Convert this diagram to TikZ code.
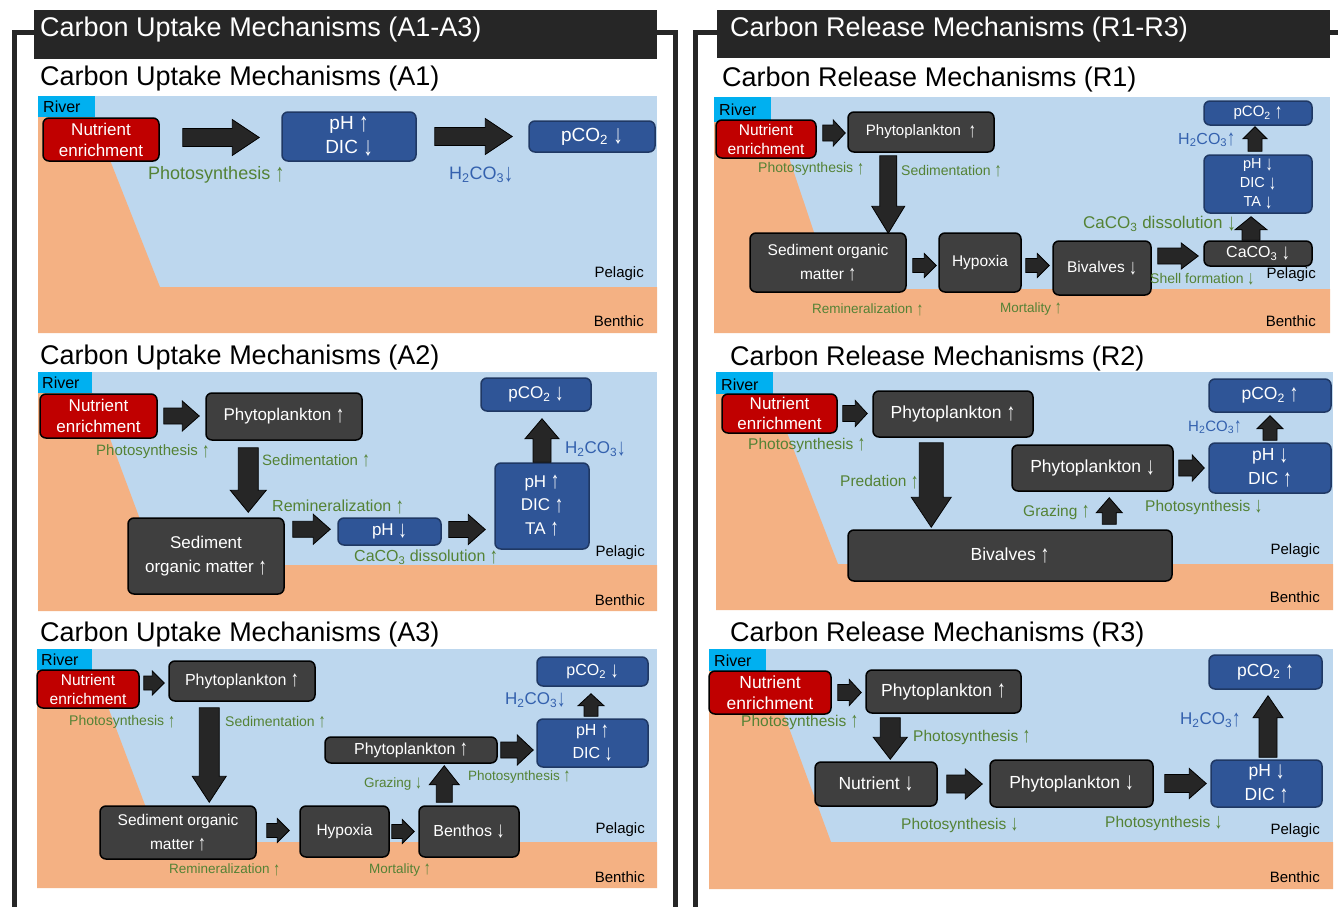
\documentclass[tikz,border=0pt]{standalone}
\usepackage{fontspec}
\usepackage{graphicx}
\setmainfont{Liberation Sans}
\usetikzlibrary{calc}
\definecolor{water}{HTML}{BDD7EE}
\definecolor{sediment}{HTML}{F4B183}
\definecolor{river}{HTML}{00B0F0}
\definecolor{nutred}{HTML}{C00000}
\definecolor{boxgray}{HTML}{3F3F3F}
\definecolor{boxblue}{HTML}{2F5597}
\definecolor{boxblueline}{HTML}{1F3864}
\definecolor{gtext}{HTML}{548235}
\definecolor{btext}{HTML}{3461AE}
\definecolor{hdr}{HTML}{262626}
\newcommand\fs[2]{\fontsize{#1}{#2}\selectfont}
% tall thin trend arrows
\newcommand\upa{\raisebox{-.1em}{\scalebox{1}[1.4]{↑}}}
\newcommand\dna{\raisebox{-.1em}{\scalebox{1}[1.4]{↓}}}
% box given by its corners: style, x1, y1, x2, y2, name
\newcommand\bx[6]{\node[#1,minimum width={#4-#2},minimum height={#5-#3}] (#6) at ({(#2+#4)/2},{(#3+#5)/2})}
% horizontal block arrow: start, end, half shaft, half head, head length
\newcommand\harr[5]{\path[blockarrow] let \p1=#1, \p2=#2, \n1={sign(\x2-\x1)} in
  (\x1,\y1+#3) -- (\x2-\n1*#5,\y1+#3) -- (\x2-\n1*#5,\y1+#4) -- (\x2,\y1) --
  (\x2-\n1*#5,\y1-#4) -- (\x2-\n1*#5,\y1-#3) -- (\x1,\y1-#3) -- cycle;}
% vertical block arrow: start, end, half shaft, half head, head length
\newcommand\varr[5]{\path[blockarrow] let \p1=#1, \p2=#2, \n1={sign(\y2-\y1)} in
  (\x1+#3,\y1) -- (\x1+#3,\y2-\n1*#5) -- (\x1+#4,\y2-\n1*#5) -- (\x1,\y2) --
  (\x1-#4,\y2-\n1*#5) -- (\x1-#3,\y2-\n1*#5) -- (\x1-#3,\y1) -- cycle;}
% water column, sediment wedge, river mouth
\newcommand\panel[9]{%
  \fill[water] (#1,#2) rectangle (#3,#4);
  \fill[sediment] (#1,#6) -- (#7,#6) -- (#8,#9) -- (#3,#9) -- (#3,#4) -- (#1,#4) -- cycle;
  \fill[river] (#1,#2) rectangle (#5,#6);
}
\tikzset{
  box/.style={draw=black, line width=1.5pt, rounded corners=6pt, inner sep=0pt, align=center, text=white},
  dbox/.style={box, fill=boxgray},
  bbox/.style={box, fill=boxblue, draw=boxblueline},
  rbox/.style={box, fill=nutred},
  blockarrow/.style={fill=hdr, draw=black, line width=0.8pt, line join=miter},
  lbl/.style={inner sep=0pt, anchor=west},
  glbl/.style={lbl, text=gtext},
  blbl/.style={lbl, text=btext},
  zone/.style={inner sep=0pt, anchor=east, font=\fs{15}{18}},
  rivlbl/.style={inner sep=0pt, anchor=west, font=\fs{16}{18}},
  ttl/.style={inner sep=0pt, anchor=base west, font=\fs{27}{32}},
  frame/.style={draw=hdr, line width=5pt}
}
\begin{document}
\begin{tikzpicture}[x=1pt,y=-1pt]
\useasboundingbox (0,0) rectangle (1338,907);
\fill[white] (0,0) rectangle (1338,907);
% ---------- frames and headers ----------
\draw[frame] (14.5,907) -- (14.5,33) -- (36,33);
\draw[frame] (655,33) -- (675.5,33) -- (675.5,907);
\draw[frame] (695.5,907) -- (695.5,33) -- (719,33);
\draw[frame] (1328,33) -- (1338,33);
\node[fill=hdr, inner sep=0, minimum width=623, minimum height=49, anchor=north west] (hA) at (34,10) {};
\node[fill=hdr, inner sep=0, minimum width=613, minimum height=48, anchor=north west] (hR) at (717,10) {};
\node[ttl, text=white] (hAt) at (40,37) {Carbon Uptake Mechanisms (A1-A3)};
\node[ttl, text=white] (hRt) at (730,37) {Carbon Release Mechanisms (R1-R3)};
\node[ttl] (tA1) at (40,85) {Carbon Uptake Mechanisms (A1)};
\node[ttl] (tA2) at (40,364) {Carbon Uptake Mechanisms (A2)};
\node[ttl] (tA3) at (40,641) {Carbon Uptake Mechanisms (A3)};
\node[ttl] (tR1) at (722,86) {Carbon Release Mechanisms (R1)};
\node[ttl] (tR2) at (730,365) {Carbon Release Mechanisms (R2)};
\node[ttl] (tR3) at (730,641) {Carbon Release Mechanisms (R3)};

% ================= A1 =================
\panel{38}{96}{657}{333}{95}{117}{93}{160}{287}
\node[rivlbl] (a1riv) at (43,107) {River};
\node[zone] (a1pel) at (644,274) {Pelagic};
\node[zone] (a1ben) at (644,321) {Benthic};
\bx{rbox,font=\fs{17}{21}}{43}{118}{159}{161}{a1nut} {Nutrient\\enrichment};
\bx{bbox,font=\fs{19}{24}}{282}{112}{416}{161}{a1ph} {pH \upa\\DIC \dna};
\bx{bbox,font=\fs{19}{23}}{529}{121}{655}{152}{a1pco} {pCO\textsubscript{2} \dna};
\harr{($(a1nut.east)+(23,-2)$)}{($(a1ph.west)+(-22,0)$)}{9pt}{18pt}{27pt}
\harr{($(a1ph.east)+(18,0)$)}{($(a1pco.west)+(-16,0)$)}{9pt}{18pt}{27pt}
\node[glbl, font=\fs{18}{22}] (a1l1) at (148,175) {Photosynthesis \upa};
\node[blbl, font=\fs{18}{22}] (a1l2) at (449,175) {H\textsubscript{2}CO\textsubscript{3}\dna};

% ================= A2 =================
\panel{38}{372}{657}{611}{92}{393}{93}{157}{565}
\node[rivlbl] (a2riv) at (42,383) {River};
\node[zone] (a2pel) at (645,553) {Pelagic};
\node[zone] (a2ben) at (645,600) {Benthic};
\bx{rbox,font=\fs{17}{21}}{40}{394}{157}{438}{a2nut} {Nutrient\\enrichment};
\bx{dbox,font=\fs{17}{21}}{206}{393}{362}{440}{a2phy} {Phytoplankton \upa};
\bx{dbox,font=\fs{17}{24}}{128}{518}{284}{594}{a2sed} {Sediment\\organic matter \upa};
\bx{bbox,font=\fs{17}{21}}{338}{518}{441}{545}{a2ph} {pH \dna};
\bx{bbox,font=\fs{17}{23.5}}{495}{463}{589}{549}{a2tri} {pH \upa\\DIC \upa\\TA \upa};
\bx{bbox,font=\fs{17}{21}}{481}{378}{591}{411}{a2pco} {pCO\textsubscript{2} \dna};
\harr{($(a2nut.east)+(6,0)$)}{($(a2phy.west)+(-6,0)$)}{8pt}{15pt}{17pt}
\varr{($(a2phy.south west)+(43,7)$)}{($(a2sed.north)+(0,-5)$)}{10pt}{18pt}{22pt}
\harr{($(a2sed.north east)+(8,12)$)}{($(a2ph.west)+(-7,0)$)}{8pt}{15pt}{17pt}
\harr{($(a2ph.east)+(7,-2)$)}{($(a2tri.west)+(-9,0)$)}{8pt}{15pt}{17pt}
\varr{(a2tri.north)}{($(a2pco.south)+(0,7)$)}{9pt}{17pt}{20pt}
\node[glbl, font=\fs{15}{18}] (a2l1) at (96,452) {Photosynthesis \upa};
\node[glbl, font=\fs{15}{18}] (a2l2) at (262,461) {Sedimentation \upa};
\node[glbl, font=\fs{16}{19}] (a2l3) at (272,507) {Remineralization \upa};
\node[glbl, font=\fs{16}{19}] (a2l4) at (354,557) {CaCO\textsubscript{3} dissolution \upa};
\node[blbl, font=\fs{17}{20}] (a2l5) at (565,449) {H\textsubscript{2}CO\textsubscript{3}\dna};

% ================= A3 =================
\panel{37}{649}{657}{888}{92}{670}{94}{159}{842}
\node[rivlbl] (a3riv) at (41,660) {River};
\node[zone] (a3pel) at (645,830) {Pelagic};
\node[zone] (a3ben) at (645,877) {Benthic};
\bx{rbox,font=\fs{15.5}{19}}{37}{670}{139}{708}{a3nut} {Nutrient\\enrichment};
\bx{dbox,font=\fs{16}{20}}{169}{661}{315}{701}{a3phy} {Phytoplankton \upa};
\bx{dbox,font=\fs{15.5}{24}}{100}{806}{256}{859}{a3sed} {Sediment organic\\matter \upa};
\bx{dbox,font=\fs{15.5}{19}}{300}{806}{389}{857}{a3hyp} {Hypoxia};
\bx{dbox,font=\fs{16}{20}}{419}{806}{519}{857}{a3ben} {Benthos \dna};
\bx{dbox,font=\fs{16}{20}}{325}{737}{497}{763}{a3phy2} {Phytoplankton \upa};
\bx{bbox,font=\fs{16}{23}}{537}{719}{648}{767}{a3ph} {pH \upa\\DIC \dna};
\bx{bbox,font=\fs{16}{20}}{537}{657}{648}{686}{a3pco} {pCO\textsubscript{2} \dna};
\harr{($(a3nut.east)+(4,-6)$)}{($(a3phy.west)+(-4,0)$)}{7pt}{12pt}{12pt}
\varr{($(a3phy.south west)+(41,6)$)}{($(a3sed.north)+(0,-3)$)}{10pt}{17pt}{26pt}
\harr{($(a3sed.east)+(10,-2)$)}{($(a3hyp.west)+(-10,0)$)}{7pt}{12pt}{12pt}
\harr{($(a3hyp.east)+(2,0)$)}{($(a3ben.west)+(-4,0)$)}{7pt}{12pt}{12pt}
\varr{($(a3ben.north west)+(26,-3)$)}{($(a3phy2.south)+(0,2)$)}{8pt}{15pt}{19pt}
\harr{($(a3phy2.east)+(3,0)$)}{($(a3ph.west)+(-3,0)$)}{8pt}{15pt}{16pt}
\varr{($(a3ph.north)+(-1.5,-2)$)}{($(a3pco.south)+(0,7)$)}{7pt}{13pt}{12pt}
\node[glbl, font=\fs{14}{17}] (a3l1) at (69,722) {Photosynthesis \upa};
\node[glbl, font=\fs{14}{17}] (a3l2) at (225,722) {Sedimentation \upa};
\node[glbl, font=\fs{13.5}{16}] (a3l3) at (364,784) {Grazing \dna};
\node[glbl, font=\fs{13.5}{16}] (a3l4) at (468,777) {Photosynthesis \upa};
\node[glbl, font=\fs{13.5}{16}] (a3l5) at (169,870) {Remineralization \upa};
\node[glbl, font=\fs{13.5}{16}] (a3l6) at (369,870) {Mortality \upa};
\node[blbl, font=\fs{17}{20}] (a3l7) at (505,700) {H\textsubscript{2}CO\textsubscript{3}\dna};

% ================= R1 =================
\panel{714}{97}{1330}{333}{771}{122}{777}{833}{289}
\node[rivlbl] (r1riv) at (719,110) {River};
\node[zone] (r1pel) at (1316,275) {Pelagic};
\node[zone] (r1ben) at (1316,321) {Benthic};
\bx{rbox,font=\fs{15.5}{19}}{716}{120}{816}{158}{r1nut} {Nutrient\\enrichment};
\bx{dbox,font=\fs{15}{19}}{848}{112}{994}{152}{r1phy} {Phytoplankton\enspace\upa};
\bx{dbox,font=\fs{15.5}{24}}{750}{233}{906}{292}{r1sed} {Sediment organic\\matter \upa};
\bx{dbox,font=\fs{15.5}{19}}{939}{233}{1021}{292}{r1hyp} {Hypoxia};
\bx{dbox,font=\fs{15.5}{19}}{1053}{241}{1151}{295}{r1biv} {Bivalves \dna};
\bx{dbox,font=\fs{16}{19}}{1204}{241}{1312}{266}{r1caco} {CaCO\textsubscript{3} \dna};
\bx{bbox,font=\fs{14.5}{19}}{1204}{155}{1312}{213}{r1tri} {pH \dna\\DIC \dna\\TA \dna};
\bx{bbox,font=\fs{15}{19}}{1204}{101}{1312}{125}{r1pco} {pCO\textsubscript{2} \upa};
\harr{($(r1nut.east)+(6,-6)$)}{($(r1phy.west)+(-2,0)$)}{8pt}{13pt}{12pt}
\varr{($(r1phy.south west)+(41,3)$)}{($(r1sed.north)+(0,1)$)}{8.5pt}{16.5pt}{27pt}
\harr{($(r1sed.east)+(6,3)$)}{($(r1hyp.west)+(-2,0)$)}{7pt}{12pt}{12pt}
\harr{($(r1hyp.east)+(4,3)$)}{($(r1biv.west)+(-3,0)$)}{7pt}{12pt}{12pt}
\harr{($(r1biv.east)+(6,-12)$)}{($(r1caco.west)+(-5,0)$)}{8pt}{13pt}{17pt}
\varr{($(r1caco.north)+(-7,0)$)}{($(r1tri.south)+(0,3)$)}{9pt}{16pt}{13pt}
\varr{($(r1tri.north)+(-3,-3)$)}{($(r1pco.south)+(0,1)$)}{7pt}{12pt}{12pt}
\node[glbl, font=\fs{14}{17}] (r1l1) at (758,169) {Photosynthesis \upa};
\node[glbl, font=\fs{14}{17}] (r1l2) at (901,171) {Sedimentation \upa};
\node[glbl, font=\fs{17}{20}] (r1l3) at (1083,224) {CaCO\textsubscript{3} dissolution \dna};
\node[blbl, font=\fs{16}{19}] (r1l4) at (1178,140) {H\textsubscript{2}CO\textsubscript{3}\upa};
\node[glbl, font=\fs{14}{17}] (r1l5) at (1150,279) {Shell formation \dna};
\node[glbl, font=\fs{13.5}{16}] (r1l6) at (812,310) {Remineralization \upa};
\node[glbl, font=\fs{13.5}{16}] (r1l7) at (1000,309) {Mortality \upa};

% ================= R2 =================
\panel{716}{372}{1333}{610}{773}{394}{772}{838}{564}
\node[rivlbl] (r2riv) at (721,385) {River};
\node[zone] (r2pel) at (1320,551) {Pelagic};
\node[zone] (r2ben) at (1320,597) {Benthic};
\bx{rbox,font=\fs{17}{20}}{722}{394}{837}{433}{r2nut} {Nutrient\\enrichment};
\bx{dbox,font=\fs{17.5}{21}}{873}{391}{1033}{437}{r2phy} {Phytoplankton \upa};
\bx{dbox,font=\fs{17.5}{21}}{848}{530}{1172}{581}{r2biv} {Bivalves \upa};
\bx{dbox,font=\fs{17.5}{21}}{1012}{445}{1173}{491}{r2phy2} {Phytoplankton \dna};
\bx{bbox,font=\fs{17.5}{24}}{1209}{443}{1331}{493}{r2ph} {pH \dna\\DIC \upa};
\bx{bbox,font=\fs{17.5}{21}}{1209}{379}{1331}{412}{r2pco} {pCO\textsubscript{2} \upa};
\harr{($(r2nut.east)+(5,0)$)}{($(r2phy.west)+(-5,0)$)}{8pt}{13pt}{12pt}
\varr{($(r2phy.south west)+(59,5)$)}{($(r2biv.north)+(0,-2)$)}{12pt}{20pt}{30pt}
\varr{($(r2biv.north west)+(262,-5)$)}{($(r2phy2.south)+(0,6)$)}{7pt}{13pt}{15pt}
\harr{($(r2phy2.east)+(5,0)$)}{($(r2ph.west)+(-4,0)$)}{8pt}{13pt}{12pt}
\varr{($(r2ph.north)+(0,-2)$)}{($(r2pco.south)+(0,3)$)}{7pt}{13pt}{13pt}
\node[glbl, font=\fs{15.5}{18}] (r2l1) at (748,445) {Photosynthesis \upa};
\node[glbl, font=\fs{15.5}{18}] (r2l2) at (840,482) {Predation \upa};
\node[glbl, font=\fs{15.5}{18}] (r2l3) at (1023,512) {Grazing \upa};
\node[glbl, font=\fs{15.5}{18}] (r2l4) at (1145,507) {Photosynthesis \dna};
\node[blbl, font=\fs{15}{18}] (r2l5) at (1188,427) {H\textsubscript{2}CO\textsubscript{3}\upa};

% ================= R3 =================
\panel{709}{649}{1333}{889}{766}{671}{768}{831}{842}
\node[rivlbl] (r3riv) at (714,661) {River};
\node[zone] (r3pel) at (1320,831) {Pelagic};
\node[zone] (r3ben) at (1320,877) {Benthic};
\bx{rbox,font=\fs{17.5}{21}}{709}{671}{831}{714}{r3nut} {Nutrient\\enrichment};
\bx{dbox,font=\fs{17.5}{21}}{866}{670}{1021}{713}{r3phy} {Phytoplankton \upa};
\bx{dbox,font=\fs{17.5}{21}}{815}{762}{937}{806}{r3nut2} {Nutrient \dna};
\bx{dbox,font=\fs{17.5}{21}}{990}{760}{1153}{807}{r3phy2} {Phytoplankton \dna};
\bx{bbox,font=\fs{17.5}{24}}{1211}{760}{1322}{807}{r3ph} {pH \dna\\DIC \upa};
\bx{bbox,font=\fs{17.5}{21}}{1209}{655}{1322}{689}{r3pco} {pCO\textsubscript{2} \upa};
\harr{($(r3nut.east)+(6,0)$)}{($(r3phy.west)+(-4,0)$)}{8pt}{13pt}{12pt}
\varr{($(r3phy.south west)+(25,4)$)}{($(r3nut2.north)+(0,-2)$)}{10pt}{17pt}{22pt}
\harr{($(r3nut2.east)+(9,0)$)}{($(r3phy2.west)+(-7,0)$)}{9pt}{15pt}{17pt}
\harr{($(r3phy2.east)+(11,0)$)}{($(r3ph.west)+(-4,0)$)}{9pt}{15pt}{17pt}
\varr{($(r3ph.north)+(1.5,-2)$)}{($(r3pco.south)+(0,6)$)}{9pt}{15pt}{22pt}
\node[glbl, font=\fs{15.5}{18}] (r3l1) at (741,722) {Photosynthesis \upa};
\node[glbl, font=\fs{15.5}{18}] (r3l2) at (913,737) {Photosynthesis \upa};
\node[blbl, font=\fs{17}{20}] (r3l3) at (1180,720) {H\textsubscript{2}CO\textsubscript{3}\upa};
\node[glbl, font=\fs{15.5}{18}] (r3l4) at (901,825) {Photosynthesis \dna};
\node[glbl, font=\fs{15.5}{18}] (r3l5) at (1105,823) {Photosynthesis \dna};
\end{tikzpicture}
\end{document}
